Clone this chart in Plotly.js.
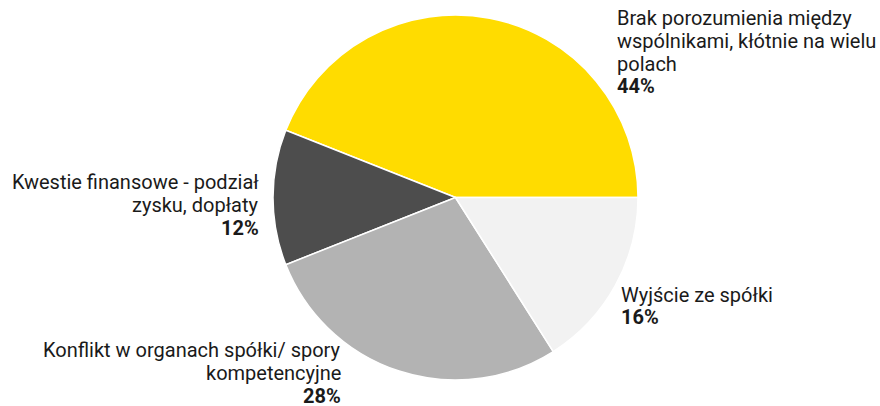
<!DOCTYPE html>
<html>
<head>
<meta charset="utf-8">
<script src="https://cdn.plot.ly/plotly-3.0.1.min.js"></script>
<style>html,body{margin:0;padding:0;background:#fff;}#chart{width:880px;height:406px;}</style>
</head>
<body>
<div id="chart"></div>
<script>
const categories = [
  "Brak porozumienia między<br>wspólnikami, kłótnie na wielu<br>polach",
  "Kwestie finansowe - podział<br>zysku, dopłaty",
  "Konflikt w organach spółki/ spory<br>kompetencyjne",
  "Wyjście ze spółki"
];
const values = [44, 12, 28, 16];
const colors = ["#FFDC00", "#4D4D4D", "#B3B3B3", "#F2F2F2"];

// label placement in pixels (x edge, first baseline) – style only
const labelPos = [
  {x: 617, base: 25, xanchor: "left"},
  {x: 259, base: 189, xanchor: "right"},
  {x: 341, base: 357, xanchor: "right"},
  {x: 621, base: 301.5, xanchor: "left"}
];
const W = 880, H = 406, STEP = 22.8, FS = 20;

const annotations = [];
categories.forEach((c, i) => {
  const lines = c.split("<br>").concat(["<b>" + values[i] + "%</b>"]);
  lines.forEach((ln, k) => {
    const base = labelPos[i].base + k * STEP;
    annotations.push({
      xref: "paper", yref: "paper",
      x: labelPos[i].x / W, y: 1 - (base - 7) / H,
      xanchor: labelPos[i].xanchor, yanchor: "middle",
      align: labelPos[i].xanchor,
      showarrow: false, borderpad: 0, borderwidth: 0,
      text: ln,
      font: {family: "Roboto", size: FS, color: "#1a1a1a"}
    });
  });
});

const trace = {
  type: "pie",
  values: values,
  labels: categories,
  marker: {colors: colors, line: {color: "#ffffff", width: 1.5}},
  sort: false,
  direction: "counterclockwise",
  rotation: -68.4,
  textinfo: "none",
  hoverinfo: "none",
  domain: {x: [273/880, 638/880], y: [(406-380)/406, (406-15)/406]}
};

Plotly.newPlot("chart", [trace], {
  width: W, height: H,
  margin: {l: 0, r: 0, t: 0, b: 0},
  showlegend: false,
  paper_bgcolor: "#ffffff",
  annotations: annotations
}, {displayModeBar: false, staticPlot: true});
</script>
</body>
</html>
